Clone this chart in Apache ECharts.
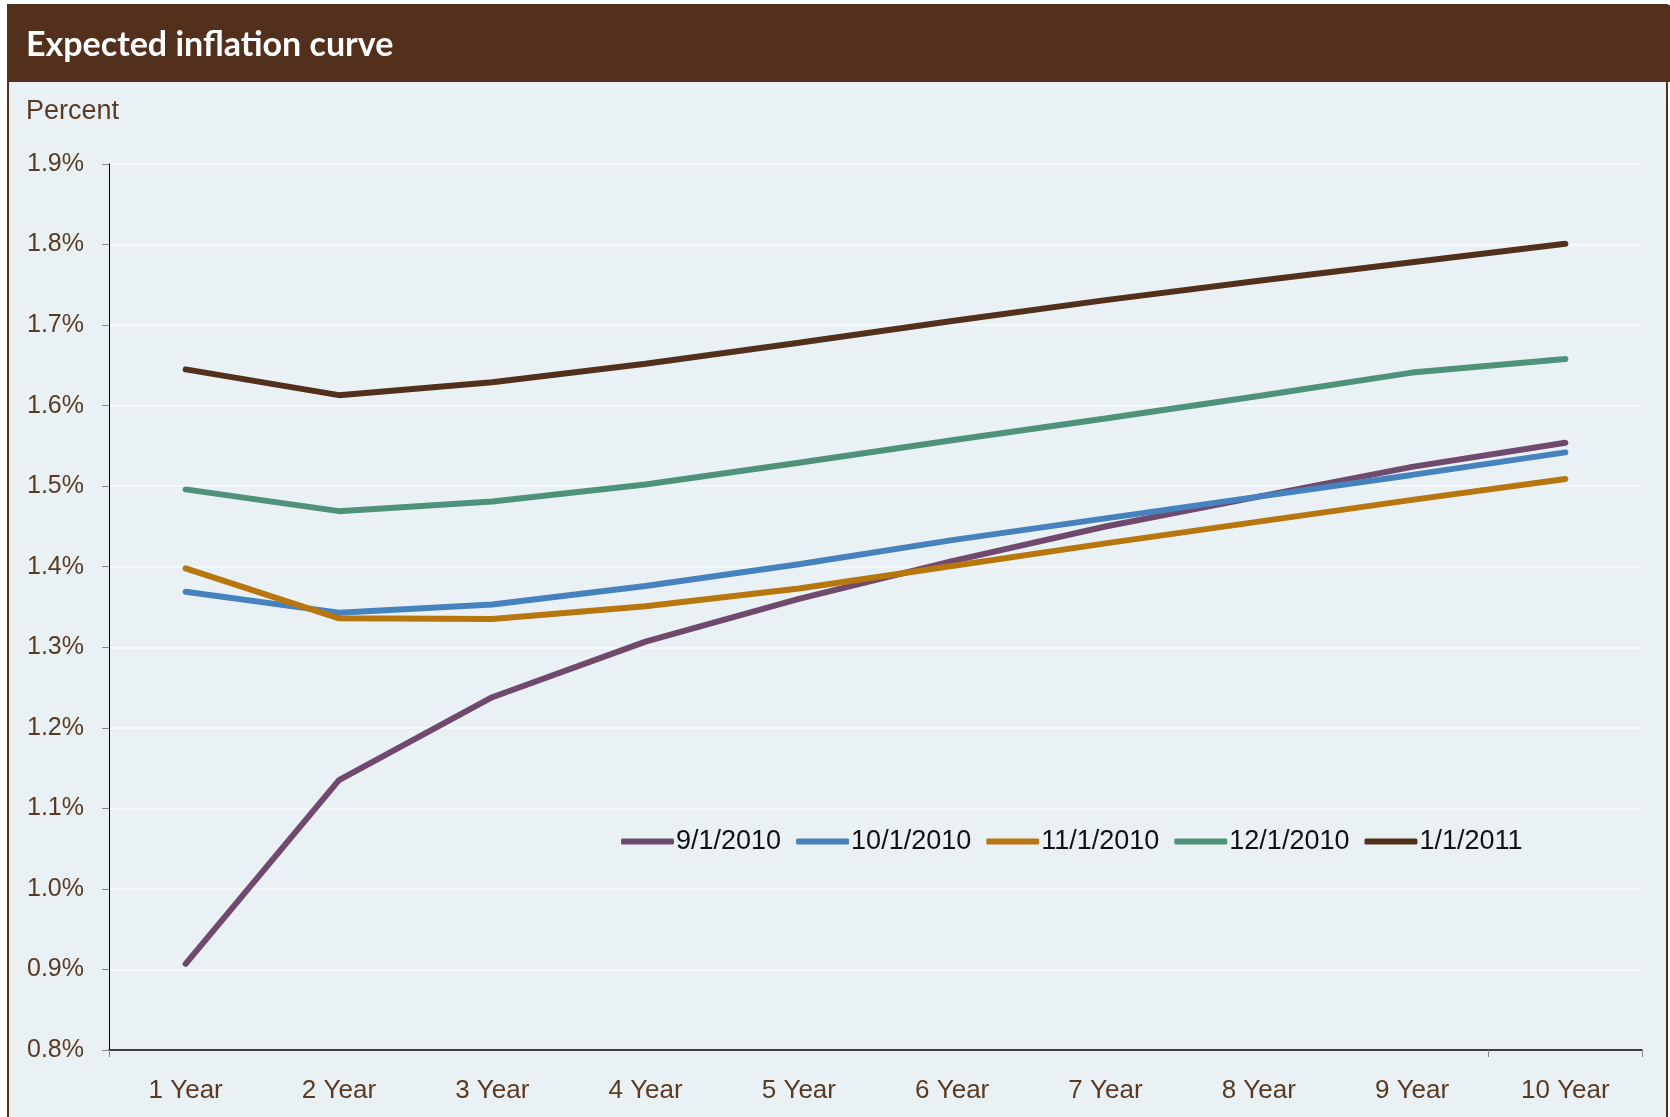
<!DOCTYPE html>
<html>
<head>
<meta charset="utf-8">
<title>Expected inflation curve</title>
<script src="https://cdn.jsdelivr.net/npm/echarts@6/dist/echarts.min.js"></script>
<style>
  html, body { margin: 0; padding: 0; background: #fff; }
  #main { width: 1670px; height: 1117px; }
</style>
</head>
<body>
<div id="main"></div>
<script>
// maturities on the x axis
var maturities = ['1 Year', '2 Year', '3 Year', '4 Year', '5 Year', '6 Year', '7 Year', '8 Year', '9 Year', '10 Year']

// expected inflation, percent
var sep2010 = [0.907, 1.135, 1.238, 1.307, 1.360, 1.407, 1.450, 1.487, 1.524, 1.554]
var oct2010 = [1.369, 1.343, 1.353, 1.376, 1.403, 1.433, 1.460, 1.487, 1.514, 1.542]
var nov2010 = [1.398, 1.336, 1.335, 1.351, 1.373, 1.401, 1.429, 1.456, 1.483, 1.509]
var dec2010 = [1.496, 1.469, 1.481, 1.502, 1.529, 1.557, 1.584, 1.612, 1.641, 1.658]
var jan2011 = [1.645, 1.613, 1.629, 1.652, 1.678, 1.705, 1.731, 1.755, 1.778, 1.801]

var seriesNames = ['9/1/2010', '10/1/2010', '11/1/2010', '12/1/2010', '1/1/2011']
var seriesData = [sep2010, oct2010, nov2010, dec2010, jan2011]
var colors = ['#704a6e', '#4682be', '#b8760e', '#4f927a', '#52301c']

var brown = '#52301c'
var labelColor = '#5a3a22'

var myChart = echarts.init(document.getElementById('main'))

myChart.setOption({
  backgroundColor: '#ffffff',
  animation: false,
  color: colors,
  graphic: [
    {
      type: 'rect',
      z: -10,
      shape: { x: 8, y: 5, width: 1659, height: 1130 },
      style: { fill: '#e9f1f5', stroke: brown, lineWidth: 2 }
    },
    {
      type: 'rect',
      z: -9,
      shape: { x: 7, y: 5, width: 1663, height: 77 },
      style: { fill: brown }
    },
    {
      type: 'text',
      left: 26,
      top: 28,
      style: {
        text: 'Expected inflation curve',
        fill: '#ffffff',
        font: 'bold 34px Lato'
      }
    },
    {
      type: 'text',
      left: 26,
      top: 98,
      style: {
        text: 'Percent',
        fill: labelColor,
        font: '27px "Liberation Sans"'
      }
    }
  ],
  grid: {
    left: 109,
    right: 28,
    top: 164,
    bottom: 67,
    containLabel: false
  },
  legend: {
    data: seriesNames,
    left: 616,
    top: 823,
    icon: 'roundRect',
    itemWidth: 53,
    itemHeight: 6,
    itemGap: 15,
    textStyle: {
      color: '#111',
      fontFamily: 'Liberation Sans',
      fontSize: 27,
      padding: [0, 0, 0, -3]
    }
  },
  xAxis: {
    type: 'category',
    data: maturities,
    boundaryGap: true,
    axisLine: { lineStyle: { color: '#000', width: 1.5 } },
    axisTick: { show: true, interval: 8, length: 7, lineStyle: { color: '#888' } },
    axisLabel: {
      color: labelColor,
      fontFamily: 'Liberation Sans',
      fontSize: 26,
      margin: 28
    },
    splitLine: { show: false }
  },
  yAxis: {
    type: 'value',
    min: 0.8,
    max: 1.9,
    interval: 0.1,
    axisLine: { show: true, lineStyle: { color: '#000', width: 1 } },
    axisTick: { show: true, length: 7, lineStyle: { color: '#888' } },
    axisLabel: {
      color: labelColor,
      fontFamily: 'Liberation Sans',
      fontSize: 25,
      margin: 25,
      formatter: function(v) {
        return v.toFixed(1) + '%'
      }
    },
    splitLine: { show: true, lineStyle: { color: '#f7fafc', width: 1.5 } }
  },
  series: seriesNames.map(function(name, i) {
    return {
      name: name,
      type: 'line',
      data: seriesData[i],
      showSymbol: false,
      symbol: 'none',
      lineStyle: { width: 6, color: colors[i], cap: 'round' },
      itemStyle: { color: colors[i] }
    }
  })
})
</script>
</body>
</html>
